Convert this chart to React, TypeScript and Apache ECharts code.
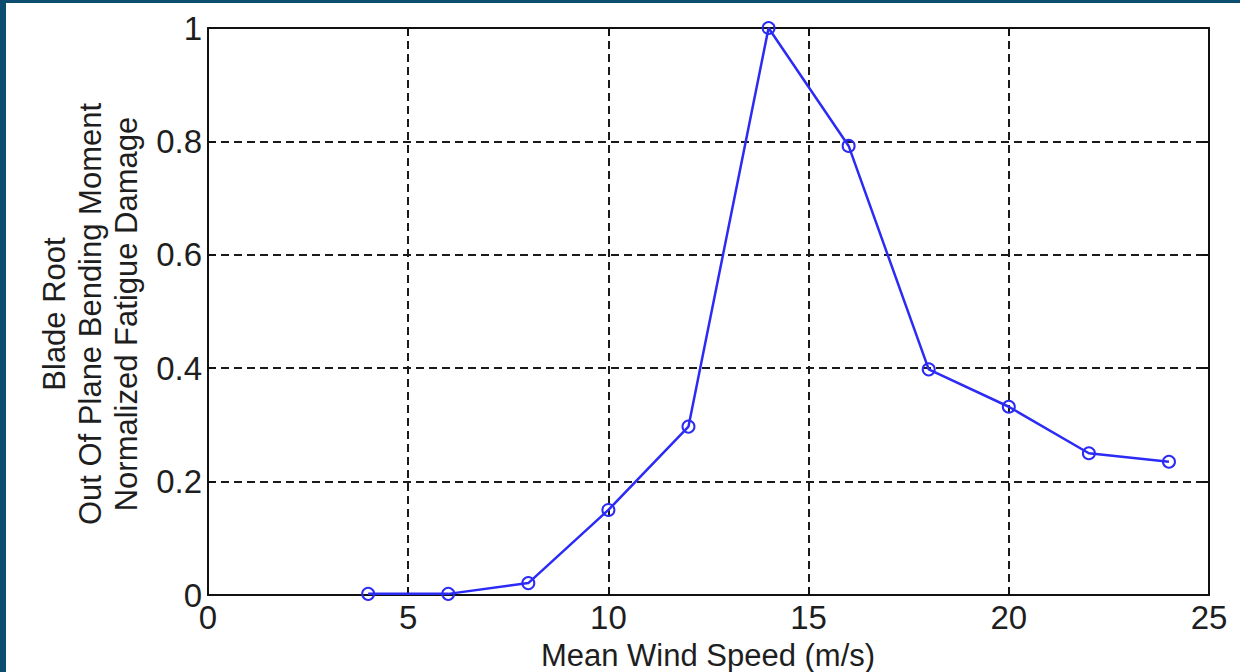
import React, { useEffect, useRef } from "react";
import * as echarts from "echarts";

const windSpeeds = [4, 6, 8, 10, 12, 14, 16, 18, 20, 22, 24];
const fatigueDamage = [0.002, 0.002, 0.021, 0.15, 0.297, 1.0, 0.792, 0.398, 0.332, 0.25, 0.235];
const xTitle = "Mean Wind Speed (m/s)";
const yTitleLines = ["Blade Root", "Out Of Plane Bending Moment", "Normalized Fatigue Damage"];

const FONT = "'Liberation Sans', Arial, sans-serif";
const TEXT = "#1e1e1e";
const BORDER = "#0c4d70";

export default function App() {
  const ref = useRef<HTMLDivElement>(null);
  useEffect(() => {
    if (!ref.current) return;
    const chart = echarts.init(ref.current, undefined, { renderer: "svg" });
    const gridLine = { show: true, lineStyle: { color: "#1a1a1a", width: 2, type: [8, 5] as any } };
    const axisLine = { show: true, onZero: false, lineStyle: { color: "#111", width: 2 } };
    chart.setOption({
      animation: false,
      backgroundColor: "#ffffff",
      grid: { left: 208, top: 28, right: 31, bottom: 77, containLabel: false },
      xAxis: [
        {
          type: "value",
          min: 0,
          max: 25,
          interval: 5,
          position: "bottom",
          axisLine,
          axisTick: { show: true, inside: true, length: 8, lineStyle: { color: "#111", width: 2 } },
          axisLabel: { color: TEXT, fontSize: 33, fontFamily: FONT, margin: 6 },
          splitLine: gridLine,
        },
        {
          type: "value",
          min: 0,
          max: 25,
          interval: 5,
          position: "top",
          axisLine,
          axisTick: { show: true, inside: true, length: 8, lineStyle: { color: "#111", width: 2 } },
          axisLabel: { show: false },
          splitLine: { show: false },
        },
      ],
      yAxis: [
        {
          type: "value",
          min: 0,
          max: 1,
          interval: 0.2,
          position: "left",
          axisLine,
          axisTick: { show: true, inside: true, length: 8, lineStyle: { color: "#111", width: 2 } },
          axisLabel: { color: TEXT, fontSize: 33, fontFamily: FONT, margin: 6 },
          splitLine: gridLine,
        },
        {
          type: "value",
          min: 0,
          max: 1,
          interval: 0.2,
          position: "right",
          axisLine,
          axisTick: { show: true, inside: true, length: 8, lineStyle: { color: "#111", width: 2 } },
          axisLabel: { show: false },
          splitLine: { show: false },
        },
      ],
      series: [
        {
          type: "line",
          xAxisIndex: 0,
          yAxisIndex: 0,
          data: windSpeeds.map((x, i) => [x, fatigueDamage[i]]),
          symbol: "circle",
          symbolSize: 12,
          showAllSymbol: true,
          lineStyle: { color: "#2b2bf5", width: 2.5 },
          itemStyle: { color: "rgba(0,0,0,0)", borderColor: "#2b2bf5", borderWidth: 2 },
          emphasis: { disabled: true },
          z: 5,
        },
      ],
      graphic: [
        { type: "rect", shape: { x: 0, y: 0, width: 1240, height: 3 }, style: { fill: BORDER }, z: 100 },
        { type: "rect", shape: { x: 0, y: 0, width: 6, height: 672 }, style: { fill: BORDER }, z: 100 },
        {
          type: "text",
          x: 708,
          y: 655,
          style: {
            text: xTitle,
            fill: TEXT,
            font: `31px ${FONT}`,
            textAlign: "center",
            textVerticalAlign: "middle",
          },
        },
        {
          type: "text",
          x: 90,
          y: 314,
          rotation: Math.PI / 2,
          style: {
            text: yTitleLines.join("\n"),
            fill: TEXT,
            font: `31px ${FONT}`,
            lineHeight: 36,
            textAlign: "center",
            textVerticalAlign: "middle",
          },
        },
      ],
    });
    return () => chart.dispose();
  }, []);
  return (
    <div
      ref={ref}
      style={{ position: "absolute", left: 0, top: 0, width: 1240, height: 672, background: "#fff" }}
    />
  );
}
